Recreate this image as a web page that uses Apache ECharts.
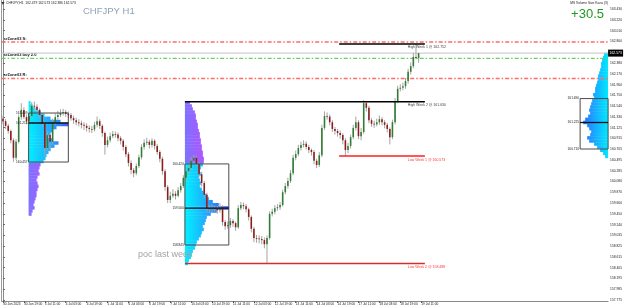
<!DOCTYPE html>
<html><head><meta charset="utf-8">
<script src="https://cdn.jsdelivr.net/npm/echarts@6/dist/echarts.min.js"></script>
<style>html,body{margin:0;padding:0;background:#fff}#c{width:625px;height:308px}</style>
</head><body><div id="c"></div>
<script>
// ---------- DATA ----------
const xLabels = ['30 Jun 2023','30 Jun 19:00','3 Jul 11:00','4 Jul 03:00','4 Jul 19:00','5 Jul 11:00','6 Jul 03:00','6 Jul 19:00','7 Jul 11:00','10 Jul 03:00','10 Jul 19:00','11 Jul 11:00','12 Jul 03:00','12 Jul 19:00','13 Jul 11:00','14 Jul 03:00','14 Jul 19:00','17 Jul 11:00','18 Jul 03:00','18 Jul 19:00','19 Jul 11:00'];
const barsPerLabel = 8;
const totalSlots = 232;
// [open, close, low, high]
const ohlc = [
[161.30,161.25,161.19,161.36],[161.25,161.16,161.10,161.29],[161.16,161.06,161.01,161.20],[161.06,160.88,160.82,161.09],
[160.88,160.54,160.46,160.92],[160.54,160.85,160.50,160.90],[160.85,161.33,160.82,161.38],[161.33,161.47,161.28,161.60],
[161.47,161.33,161.29,161.52],[161.33,161.25,161.19,161.38],[161.25,161.35,161.21,161.41],[161.35,161.55,161.32,161.62],
[161.55,161.53,161.46,161.63],[161.53,161.47,161.41,161.58],[161.47,161.37,161.31,161.50],[161.37,161.20,161.14,161.40],
[161.20,160.73,160.55,161.24],[160.73,160.98,160.68,161.05],[160.98,160.85,160.66,161.03],[160.85,161.23,160.80,161.30],
[161.23,161.33,161.18,161.40],[161.33,161.37,161.28,161.45],[161.37,161.41,161.33,161.48],[161.41,161.43,161.36,161.49],
[161.43,161.39,161.33,161.47],[161.39,161.37,161.31,161.44],[161.37,161.31,161.26,161.41],[161.31,161.27,161.20,161.36],
[161.27,161.23,161.17,161.32],[161.23,161.21,161.15,161.29],[161.21,161.18,161.11,161.26],[161.18,161.16,161.08,161.23],
[161.16,161.12,161.05,161.21],[161.12,161.10,161.03,161.17],[161.10,161.09,161.02,161.16],[161.09,161.18,161.05,161.24],
[161.18,161.25,161.13,161.34],[161.25,161.16,161.10,161.29],[161.16,161.02,160.95,161.19],[161.02,160.79,160.60,161.05],
[160.79,160.88,160.74,160.95],[160.88,160.96,160.84,161.03],[160.96,161.00,160.92,161.06],[161.00,160.99,160.93,161.05],
[160.99,160.92,160.86,161.03],[160.92,160.87,160.80,160.96],[160.87,160.75,160.68,160.90],[160.75,160.61,160.55,160.79],
[160.61,160.44,160.37,160.65],[160.44,160.30,160.22,160.49],[160.30,160.24,160.16,160.34],[160.24,160.38,160.20,160.43],
[160.38,160.55,160.34,160.60],[160.55,160.75,160.51,160.80],[160.75,160.83,160.70,160.90],[160.83,160.85,160.78,160.93],
[160.85,160.79,160.72,160.89],[160.79,160.87,160.74,160.92],[160.87,160.77,160.70,160.90],[160.77,160.65,160.60,160.81],
[160.65,160.52,160.45,160.69],[160.52,160.28,160.21,160.56],[160.28,159.97,159.90,160.32],[159.97,159.72,159.66,160.01],
[159.72,159.80,159.66,159.88],[159.80,159.84,159.76,159.93],[159.84,159.80,159.73,159.89],[159.80,159.91,159.77,159.97],
[159.91,159.99,159.86,160.05],[159.99,160.15,159.95,160.20],[160.15,160.28,160.10,160.33],[160.28,160.34,160.22,160.42],
[160.34,160.48,160.30,160.55],[160.48,160.54,160.42,160.60],[160.54,160.42,160.36,160.58],[160.42,160.22,160.16,160.46],
[160.22,160.05,159.98,160.27],[160.05,159.82,159.75,160.09],[159.82,159.56,159.49,159.86],[159.56,159.54,159.47,159.62],
[159.54,159.56,159.48,159.63],[159.56,159.55,159.49,159.61],[159.55,159.52,159.45,159.60],[159.52,159.58,159.47,159.66],
[159.58,159.29,159.22,159.62],[159.29,159.21,159.14,159.33],[159.21,159.23,159.16,159.30],[159.23,159.31,159.18,159.37],
[159.31,159.27,159.20,159.35],[159.27,159.19,159.12,159.30],[159.19,159.56,159.16,159.62],[159.56,159.62,159.52,159.68],
[159.62,159.60,159.54,159.67],[159.60,159.54,159.48,159.64],[159.54,159.39,159.32,159.57],[159.39,159.16,159.09,159.42],
[159.16,158.98,158.90,159.20],[158.98,158.97,158.89,159.04],[158.97,158.96,158.88,159.03],[158.96,158.94,158.86,159.02],
[158.94,158.86,158.78,158.99],[158.86,158.98,158.488,159.03],[158.98,159.45,158.95,159.50],[159.45,159.49,159.40,159.55],
[159.49,159.56,159.44,159.62],[159.56,159.58,159.51,159.64],[159.58,159.62,159.53,159.68],[159.62,159.87,159.59,159.92],
[159.87,159.99,159.83,160.05],[159.99,160.09,159.94,160.15],[160.09,160.24,160.05,160.30],[160.24,160.54,160.20,160.60],
[160.54,160.61,160.49,160.68],[160.61,160.73,160.57,160.79],[160.73,160.79,160.68,160.85],[160.79,160.81,160.74,160.88],
[160.81,160.75,160.70,160.86],[160.75,160.69,160.63,160.79],[160.69,160.65,160.58,160.72],[160.65,160.48,160.41,160.69],
[160.48,160.40,160.34,160.52],[160.40,160.59,160.36,160.65],[160.59,161.12,160.55,161.18],[161.12,161.35,161.08,161.44],
[161.35,161.34,161.28,161.42],[161.34,161.23,161.17,161.38],[161.23,161.10,161.04,161.27],[161.10,161.06,160.99,161.14],
[161.06,161.02,160.95,161.10],[161.02,160.98,160.91,161.07],[160.98,160.88,160.80,161.02],[160.88,160.69,160.573,160.92],
[160.69,160.77,160.63,160.83],[160.77,160.94,160.72,160.99],[160.94,161.12,160.90,161.18],[161.12,161.23,161.07,161.34],
[161.23,160.96,160.90,161.27],[160.96,161.04,160.88,161.12],[161.04,161.60,161.00,161.66],[161.60,161.51,161.44,161.64],
[161.51,161.27,161.21,161.55],[161.27,161.20,161.14,161.31],[161.20,161.19,161.12,161.26],[161.19,161.23,161.15,161.30],
[161.23,161.29,161.18,161.36],[161.29,161.23,161.17,161.33],[161.23,161.18,161.11,161.27],[161.18,161.10,161.03,161.22],
[161.10,160.94,160.80,161.13],[160.94,161.23,160.90,161.28],[161.23,161.64,161.19,161.70],[161.64,161.88,161.60,161.94],
[161.88,161.90,161.83,161.97],[161.90,161.93,161.85,162.00],[161.93,162.03,161.88,162.09],[162.03,162.21,161.98,162.27],
[162.21,162.32,162.16,162.39],[162.32,162.50,162.28,162.58],[162.50,162.48,162.45,162.752],[162.479,162.573,162.386,162.573]
];
const yTicks = [163.430,163.220,163.010,162.800,162.380,162.170,161.960,161.750,161.540,161.330,161.125,160.915,160.705,160.495,160.285,160.080,159.870,159.660,159.450,159.240,159.035,158.825,158.615,158.405,158.195,157.985,157.775];
const yMin = 157.757, yMax = 163.605;

const bid = 162.573;
const srLevels = [162.789, 162.470, 162.080];
const srNames = ['srZone03 S:', 'srZone03 buy 2.0', 'srZone03 R:'];

const weekLevels = [162.752, 161.630, 160.573, 158.488];
const weekNames = ['High Week 1', 'High Week 2', 'Low Week 1', 'Low Week 2'];
const weekStart = [128.6, 69.6, 128.6, 69.6];
const weekEnd = 161.4;
const weekLabelAt = 154.9;

// value-area boxes: start, end, high, poc, low
const boxStart = [9.8, 69.6, 220.8];
const boxEnd = [25.0, 86.4, 231.5];
const boxHigh = [161.409, 160.420, 161.690];
const boxPoc = [161.215, 159.560, 161.225];
const boxLow = [160.457, 158.845, 160.710];

// volume profiles (row volumes from top price down, step rowStep)
const rowStep = 0.06;
const profATop = 161.64, profAAt = 9.8;
const profAVol = [2,4,7,12,16,22,32,40,28,24,22,20,24,30,26,22,20,18,17,15,12,11,10,11,9,8,9,10,9,8,8,7,6,5,6,4,3];
const profBTop = 161.64, profBAt = 69.6;
const profBVol = [5,7,8,10,11,11,12,13,13,14,15,15,16,16,17,17,18,18,19,19,18,16,15,16,14,15,16,15,17,19,22,24,28,34,44,32,26,22,21,20,18,19,17,16,14,12,11,10,8,7,6,4,3];
const profCTop = 162.58, profCAt = 231.5;
const profCVol = [4,5,6,7,7,8,9,10,10,11,12,13,13,15,14,16,17,18,19,18,20,23,25,21,19,17,18,21,19,14,11,8,5,3];

// ---------- CHART ----------
const chart = echarts.init(document.getElementById('c'), null, {renderer: 'canvas'});
const FONT = 'Arial, "Liberation Sans", sans-serif';

function candleItem(params, api) {
  const k = api.value(0), o = api.value(1), c = api.value(2), l = api.value(3), h = api.value(4);
  const band = api.size([1, 0])[0];
  const pO = api.coord([k, o]), pC = api.coord([k, c]), pL = api.coord([k, l]), pH = api.coord([k, h]);
  const x = pO[0];
  const bw = Math.max(1, band * 0.6);
  const top = Math.min(pO[1], pC[1]);
  const hgt = Math.max(0.8, Math.abs(pO[1] - pC[1]));
  return {type: 'group', children: [
    {type: 'line', shape: {x1: x, y1: pH[1], x2: x, y2: pL[1]}, style: {stroke: '#a4a4a4', lineWidth: 1}},
    {type: 'rect', shape: {x: x - bw / 2, y: top, width: bw, height: hgt}, style: {fill: c >= o ? '#2f7d32' : '#8e1b1b'}}
  ]};
}

function makeProfile(vols, top, at, dir, isPurple) {
  const rows = vols.map((v, i) => [at, +(top - i * rowStep).toFixed(3), v]);
  return {
    type: 'custom', clip: false, silent: true, z: 2,
    encode: {x: 0, y: 1},
    data: rows,
    renderItem(params, api) {
      const k = api.value(0), pTop = api.value(1), v = api.value(2);
      const unit = api.size([1, 0])[0] / 2.625;
      const pt = api.coord([k, pTop]), pb = api.coord([k, pTop - rowStep]);
      const w = v * unit;
      const x = dir > 0 ? pt[0] : pt[0] - w;
      let fill;
      if (dir < 0) {
        fill = {type: 'linear', global: true, x: pt[0], y: 0, x2: pt[0] - 26 * unit, y2: 0,
          colorStops: [{offset: 0, color: '#00e8ff'}, {offset: 1, color: '#2f6cff'}]};
      } else if (isPurple(pTop - rowStep / 2)) {
        fill = {type: 'linear', global: true, x: pt[0], y: 0, x2: pt[0] + 24 * unit, y2: 0,
          colorStops: [{offset: 0, color: '#7d72ff'}, {offset: 1, color: '#bd4cff'}]};
      } else {
        fill = {type: 'linear', global: true, x: pt[0], y: 0, x2: pt[0] + 44 * unit, y2: 0,
          colorStops: [{offset: 0, color: '#00f0ff'}, {offset: 0.5, color: '#22a8ff'}, {offset: 1, color: '#3d4cf0'}]};
      }
      return {type: 'rect', shape: {x: x, y: pt[1], width: w, height: pb[1] - pt[1] + 0.4}, style: {fill: fill}};
    }
  };
}

const srColors = ['#ff6a6a', '#62d162', '#ff6a6a'];
const weekColors = ['#000000', '#000000', '#ff1e1e', '#d32f2f'];
const weekTextColors = ['#444444', '#444444', '#ff3535', '#ff3535'];

const option = {
  animation: false,
  backgroundColor: '#ffffff',
  grid: {left: 1, right: 15, top: 0, bottom: 7, containLabel: false},
  xAxis: {
    type: 'value', min: -0.5, max: totalSlots - 0.5,
    splitLine: {show: false},
    axisLine: {show: true, lineStyle: {color: '#8a8a8a', width: 1}},
    axisTick: {show: true, length: 2, lineStyle: {color: '#666'}, customValues: xLabels.map((_, i) => i * barsPerLabel)},
    axisLabel: {
      customValues: xLabels.map((_, i) => i * barsPerLabel),
      formatter: v => xLabels[Math.round(v / barsPerLabel)] || '',
      fontSize: 3.2, color: '#222', align: 'left', margin: 2, fontFamily: FONT
    }
  },
  yAxis: [{
    type: 'value', position: 'right', min: yMin, max: yMax,
    splitLine: {show: false},
    axisLine: {show: true, lineStyle: {color: '#8a8a8a', width: 1}},
    axisTick: {show: true, length: 2, customValues: yTicks, lineStyle: {color: '#666'}},
    axisLabel: {customValues: yTicks, formatter: v => v.toFixed(3), fontSize: 3.3, color: '#222', margin: 2, fontFamily: FONT}
  }, {
    type: 'value', position: 'left', min: yMin, max: yMax,
    splitLine: {show: false},
    axisLine: {show: true, lineStyle: {color: '#9a9a9a', width: 1}},
    axisTick: {show: false}, axisLabel: {show: false}
  }],
  graphic: [
    {type: 'polygon', z: 100, shape: {points: [[1.5, 2], [4.5, 2], [3, 5]]}, style: {fill: '#333'}},
    {type: 'text', z: 100, left: 6, top: 1.5, style: {text: 'CHFJPY,H1  162.479 162.573 162.386 162.573', fontSize: 3.3, fill: '#222', fontFamily: FONT}},
    {type: 'text', z: 100, left: 83, top: 6, style: {text: 'CHFJPY H1', fontSize: 9.5, fill: '#8fa3b7', fontFamily: FONT}},
    {type: 'text', z: 100, right: 17, top: 1.5, style: {text: 'MS Volume Size Kana (3)', fontSize: 3.3, fill: '#222', fontFamily: FONT}},
    {type: 'text', z: 100, right: 21, top: 8, style: {text: '+30.5', fontSize: 13, fill: '#1e9a1e', fontFamily: FONT}},
    {type: 'text', z: 100, left: 138, top: 250, style: {text: 'poc last week', fontSize: 9, fill: '#a3a3a3', fontFamily: FONT}}
  ],
  series: [
    makeProfile(profAVol, profATop, profAAt, 1, p => p < 160.45),
    makeProfile(profBVol, profBTop, profBAt, 1, p => p > 160.42),
    makeProfile(profCVol, profCTop, profCAt, -1, p => false),
    {
      type: 'custom', name: 'sr', clip: false, silent: true, z: 3,
      encode: {x: 0, y: 1},
      data: srLevels.map((p, i) => [0, p, i]),
      renderItem(params, api) {
        const cs = params.coordSys;
        const i = api.value(2);
        const y = api.coord([0, api.value(1)])[1];
        return {type: 'group', children: [
          {type: 'line', shape: {x1: cs.x, y1: y, x2: cs.x + cs.width, y2: y},
            style: {stroke: srColors[i], lineWidth: 1.4, lineDash: [4, 2, 1.5, 2]}},
          {type: 'text', style: {x: cs.x + 2, y: y - 1.5, text: srNames[i], fontSize: 4, fontWeight: 'bold', fill: '#111', fontFamily: FONT, verticalAlign: 'bottom', align: 'left'}}
        ]};
      }
    },
    {
      type: 'custom', name: 'bid', clip: false, silent: true, z: 3,
      encode: {x: 0, y: 1},
      data: [[0, bid]],
      renderItem(params, api) {
        const cs = params.coordSys;
        const y = api.coord([0, api.value(1)])[1];
        return {type: 'group', children: [
          {type: 'line', shape: {x1: cs.x, y1: y, x2: cs.x + cs.width, y2: y}, style: {stroke: '#c4c4c4', lineWidth: 1}},
          {type: 'rect', shape: {x: cs.x + cs.width, y: y - 3.5, width: 15, height: 7}, style: {fill: '#000'}},
          {type: 'text', style: {x: cs.x + cs.width + 1.5, y: y, text: api.value(1).toFixed(3), fontSize: 3.4, fill: '#fff', fontFamily: FONT, verticalAlign: 'middle', align: 'left'}}
        ]};
      }
    },
    {
      type: 'custom', name: 'candles', clip: true, silent: true, z: 4,
      encode: {x: 0, y: [1, 2, 3, 4]},
      data: ohlc.map((d, i) => [i, d[0], d[1], d[2], d[3]]),
      renderItem: candleItem
    },
    {
      type: 'custom', name: 'boxes', clip: false, silent: true, z: 5,
      encode: {x: [0, 1], y: [2, 4]},
      data: boxStart.map((s, i) => [s, boxEnd[i], boxHigh[i], boxPoc[i], boxLow[i]]),
      renderItem(params, api) {
        const k1 = api.value(0), k2 = api.value(1);
        const a = api.coord([k1, api.value(2)]), b = api.coord([k2, api.value(4)]);
        const py = api.coord([k1, api.value(3)])[1];
        const lbl = (v, y) => ({type: 'text', style: {x: a[0] - 1, y: y, text: v.toFixed(3), fontSize: 3.2, fill: '#222', fontFamily: FONT, align: 'right', verticalAlign: 'middle'}});
        return {type: 'group', children: [
          {type: 'rect', shape: {x: a[0], y: a[1], width: b[0] - a[0], height: b[1] - a[1]}, style: {fill: null, stroke: '#4a4a4a', lineWidth: 1}},
          {type: 'line', shape: {x1: a[0], y1: py, x2: b[0], y2: py}, style: {stroke: '#111', lineWidth: 1.3}},
          lbl(api.value(2), a[1]), lbl(api.value(3), py), lbl(api.value(4), b[1])
        ]};
      }
    },
    {
      type: 'custom', name: 'weeks', clip: false, silent: true, z: 5,
      encode: {x: 0, y: 2},
      data: weekLevels.map((p, i) => [weekStart[i], weekEnd, p, i]),
      renderItem(params, api) {
        const i = api.value(3), p = api.value(2);
        const a = api.coord([api.value(0), p]), b = api.coord([api.value(1), p]);
        const t = api.coord([weekLabelAt, p]);
        return {type: 'group', children: [
          {type: 'line', shape: {x1: a[0], y1: a[1], x2: b[0], y2: b[1]}, style: {stroke: weekColors[i], lineWidth: 1.5}},
          {type: 'text', style: {x: t[0], y: t[1] + 1.5, text: weekNames[i] + ' @ ' + p.toFixed(3), fontSize: 3.5, fill: weekTextColors[i], fontFamily: FONT, align: 'left', verticalAlign: 'top'}}
        ]};
      }
    }
  ]
};
chart.setOption(option);
</script></body></html>
